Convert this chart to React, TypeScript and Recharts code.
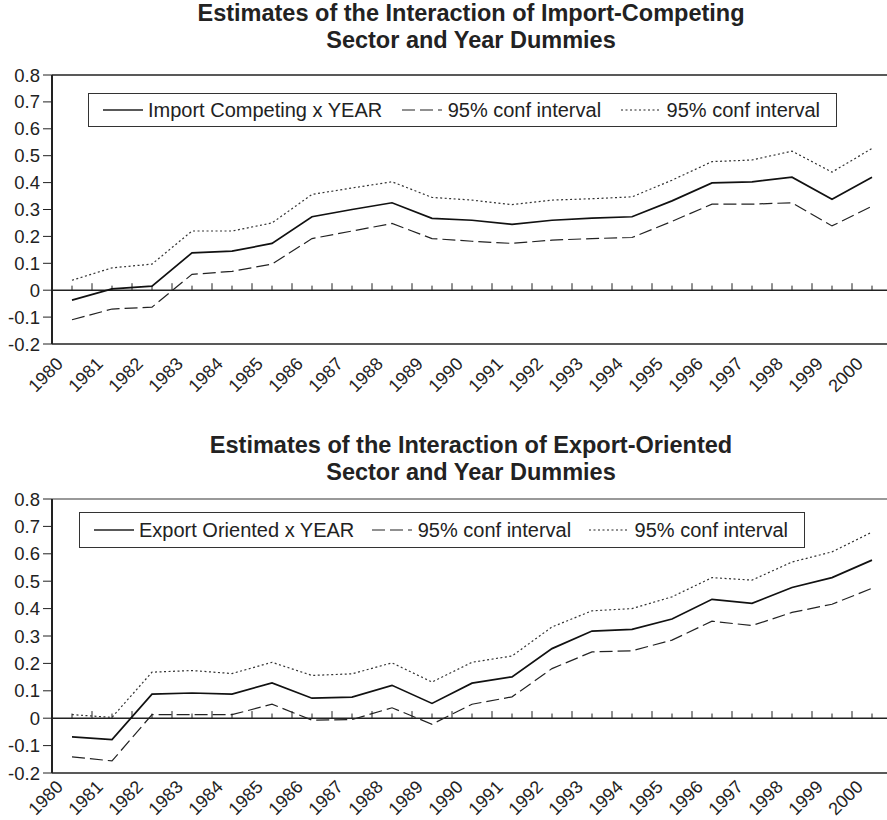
import React from 'react';
import { LineChart, Line, XAxis, YAxis, ReferenceLine } from 'recharts';

const years = [1980, 1981, 1982, 1983, 1984, 1985, 1986, 1987, 1988, 1989, 1990, 1991, 1992, 1993, 1994, 1995, 1996, 1997, 1998, 1999, 2000];

const importEst = [-0.037, 0.005, 0.015, 0.139, 0.145, 0.174, 0.273, 0.3, 0.325, 0.267, 0.26, 0.245, 0.26, 0.268, 0.273, 0.332, 0.399, 0.403, 0.42, 0.338, 0.42];
const importLow = [-0.11, -0.07, -0.063, 0.059, 0.07, 0.097, 0.192, 0.22, 0.248, 0.192, 0.182, 0.174, 0.186, 0.192, 0.196, 0.256, 0.32, 0.32, 0.325, 0.239, 0.312];
const importHigh = [0.037, 0.083, 0.097, 0.22, 0.22, 0.25, 0.356, 0.38, 0.403, 0.345, 0.335, 0.318, 0.335, 0.34, 0.347, 0.409, 0.478, 0.484, 0.517, 0.439, 0.527];

const exportEst = [-0.068, -0.078, 0.088, 0.092, 0.088, 0.129, 0.073, 0.077, 0.12, 0.054, 0.128, 0.151, 0.254, 0.318, 0.324, 0.362, 0.434, 0.419, 0.477, 0.513, 0.577];
const exportLow = [-0.141, -0.156, 0.013, 0.013, 0.013, 0.051, -0.007, -0.005, 0.038, -0.022, 0.051, 0.078, 0.181, 0.242, 0.246, 0.285, 0.354, 0.338, 0.386, 0.416, 0.474];
const exportHigh = [0.013, 0.003, 0.168, 0.174, 0.163, 0.204, 0.156, 0.162, 0.202, 0.132, 0.204, 0.227, 0.333, 0.392, 0.4, 0.443, 0.513, 0.504, 0.57, 0.607, 0.679];

const yTicks = [-0.2, -0.1, 0, 0.1, 0.2, 0.3, 0.4, 0.5, 0.6, 0.7, 0.8];
const confLabel = '95% conf interval';

const font = '"Liberation Sans", Arial, Helvetica, sans-serif';
const ink = '#222';

function YearTick({ x, y, payload, drop }: any) {
   const ax = x - 8;
   const ay = y + drop;
   return (
      <text x={ax} y={ay} transform={`rotate(-45, ${ax}, ${ay})`} textAnchor="end"
         fontSize={18} fill={ink} fontFamily={font}>
         {payload.value}
      </text>
   );
}

function Sample({ dash, width }: { dash?: string; width: number }) {
   return (
      <svg width={40} height={10} style={{ display: 'block' }}>
         <line x1={0} y1={5} x2={40} y2={5} stroke={ink} strokeWidth={width} strokeDasharray={dash} />
      </svg>
   );
}

type PanelProps = {
   top: number;
   titleTop: number;
   titles: string[];
   seriesName: string;
   est: number[];
   low: number[];
   high: number[];
   plotTop: number;
   plotHeight: number;
   labelDrop: number;
   legend: { left: number; top: number; width: number; height: number };
   frameColor: string;
}

function Panel({ top, titleTop, titles, seriesName, est, low, high, plotTop, plotHeight, labelDrop, legend, frameColor }: PanelProps) {
   const data = years.map((year, i) => ({ year, est: est[i], low: low[i], high: high[i] }));
   const chartHeight = 410;
   const axisHeight = chartHeight - plotTop - plotHeight;
   const majorTicks = [...years.map(y => y - 0.5), years[years.length - 1] + 0.5];

   return (
      <div style={{ position: 'absolute', left: 0, top, width: 887, height: chartHeight, overflow: 'hidden' }}>
         <LineChart width={892} height={chartHeight} data={data}
            margin={{ top: plotTop, right: 0, bottom: 0, left: 0 }}>
            <XAxis dataKey="year" type="number" domain={[1979.5, 2000.5]} ticks={years} interval={0}
               tickLine={false} tickSize={0} tickMargin={0} height={axisHeight}
               axisLine={{ stroke: ink, strokeWidth: 1.5 }} tick={<YearTick drop={labelDrop} />} />
            <YAxis domain={[-0.2, 0.8]} ticks={yTicks} interval={0} width={52} allowDataOverflow
               tickFormatter={(v: number) => (v === 0 ? '0' : v.toFixed(1))}
               axisLine={{ stroke: ink, strokeWidth: 2 }} tickLine={{ stroke: ink }} tickSize={9} tickMargin={3}
               tick={{ fontSize: 18.5, fill: ink, fontFamily: font }} />
            <ReferenceLine y={0.8} stroke={frameColor} strokeWidth={1.5} />
            <ReferenceLine y={0} stroke={ink} strokeWidth={1.5} />
            {majorTicks.slice(1).map(t => (
               <ReferenceLine key={'M' + t} segment={[{ x: t, y: 0 }, { x: t, y: 0.026 }]} stroke={ink} strokeWidth={1} />
            ))}
            {years.map(t => (
               <ReferenceLine key={'m' + t} segment={[{ x: t, y: 0 }, { x: t, y: 0.017 }]} stroke={ink} strokeWidth={1} />
            ))}
            <Line type="linear" dataKey="high" stroke="#333" strokeWidth={1.2} strokeDasharray="2 2.5" dot={false} isAnimationActive={false} />
            <Line type="linear" dataKey="low" stroke={ink} strokeWidth={1.2} strokeDasharray="13 5" dot={false} isAnimationActive={false} />
            <Line type="linear" dataKey="est" stroke="#111" strokeWidth={1.7} dot={false} isAnimationActive={false} />
         </LineChart>
         <div style={{
            position: 'absolute', left: 71, top: titleTop, width: 800, textAlign: 'center',
            fontFamily: font, fontWeight: 'bold', fontSize: 23.5, lineHeight: '27px', color: ink,
         }}>
            {titles.map(t => <div key={t}>{t}</div>)}
         </div>
         <div style={{
            position: 'absolute', left: legend.left, top: legend.top, width: legend.width, height: legend.height,
            boxSizing: 'border-box', border: '1.5px solid #333', background: '#fff',
            display: 'flex', alignItems: 'center', justifyContent: 'space-between', padding: '0 16px 0 14px',
            fontFamily: font, fontSize: 20, color: ink, whiteSpace: 'nowrap',
         }}>
            <div style={{ display: 'flex', alignItems: 'center' }}><Sample width={1.7} /><span style={{ marginLeft: 5 }}>{seriesName}</span></div>
            <div style={{ display: 'flex', alignItems: 'center' }}><Sample width={1.2} dash="13 5" /><span style={{ marginLeft: 6 }}>{confLabel}</span></div>
            <div style={{ display: 'flex', alignItems: 'center' }}><Sample width={1.2} dash="2 2.5" /><span style={{ marginLeft: 6 }}>{confLabel}</span></div>
         </div>
      </div>
   );
}

export default function App() {
   return (
      <div style={{ position: 'relative', width: 887, height: 820, background: '#fff', overflow: 'hidden' }}>
         <style>{'body{margin:0}'}</style>
         <Panel top={0} titleTop={0}
            titles={['Estimates of the Interaction of Import-Competing', 'Sector and Year Dummies']}
            seriesName="Import Competing x YEAR"
            est={importEst} low={importLow} high={importHigh}
            plotTop={75} plotHeight={269} labelDrop={21}
            legend={{ left: 88, top: 93, width: 749, height: 34 }}
            frameColor={ink} />
         <Panel top={410} titleTop={22}
            titles={['Estimates of the Interaction of Export-Oriented', 'Sector and Year Dummies']}
            seriesName="Export Oriented x YEAR"
            est={exportEst} low={exportLow} high={exportHigh}
            plotTop={89} plotHeight={274} labelDrop={15}
            legend={{ left: 79, top: 102, width: 726, height: 36 }}
            frameColor="#777" />
      </div>
   );
}
